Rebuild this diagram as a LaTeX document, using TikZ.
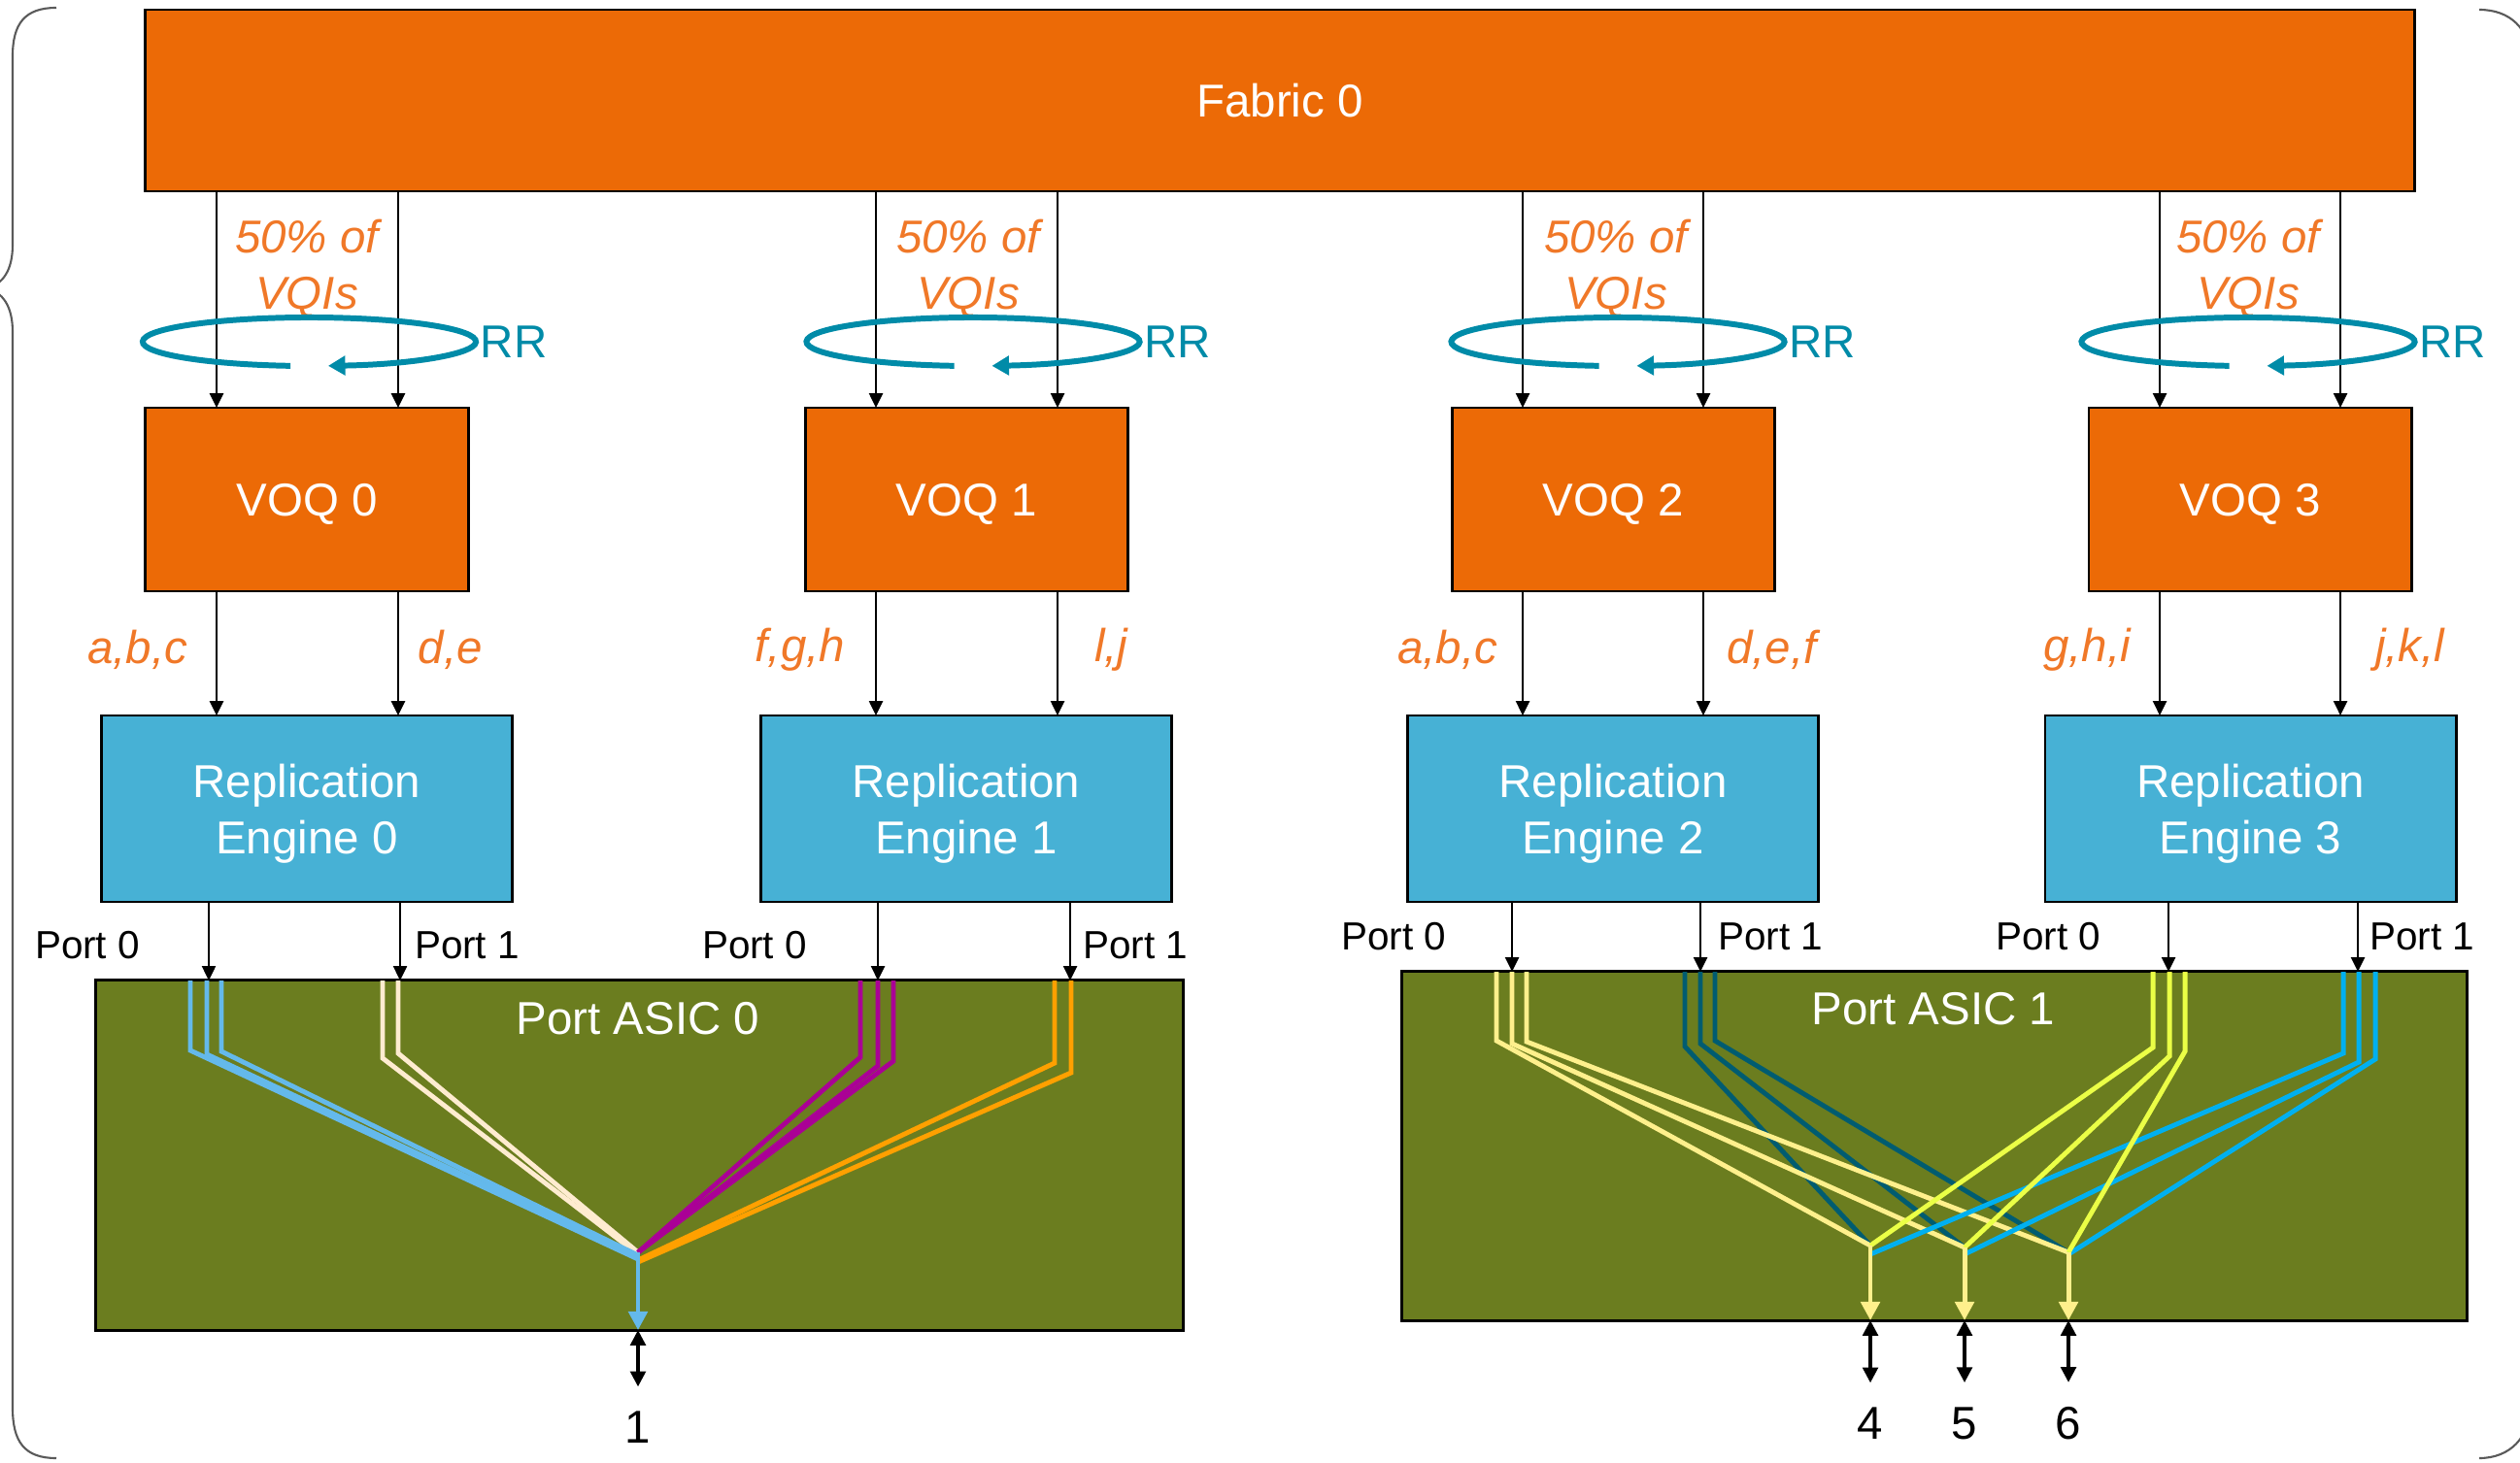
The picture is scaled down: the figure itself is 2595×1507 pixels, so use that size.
\documentclass[tikz,border=0pt]{standalone}
\usepackage{fontspec}
\setmainfont{Liberation Sans}
\usepackage{xcolor}
\usepackage{tikz}
\usetikzlibrary{arrows.meta, positioning, calc}

\definecolor{fabOrange}{RGB}{236,106,6}
\definecolor{repBlue}{RGB}{71,177,213}
\definecolor{asicGreen}{RGB}{107,125,31}
\definecolor{lblOrange}{RGB}{240,120,40}
\definecolor{rrTeal}{RGB}{0,139,168}
\definecolor{lineBlue}{RGB}{100,185,235}
\definecolor{lineCream}{RGB}{255,236,208}
\definecolor{lineMagenta}{RGB}{170,0,150}
\definecolor{lineAmber}{RGB}{255,160,0}
\definecolor{lineButter}{RGB}{255,240,140}
\definecolor{lineTeal}{RGB}{0,92,112}
\definecolor{lineLime}{RGB}{235,255,70}
\definecolor{lineCyan}{RGB}{0,176,240}
\definecolor{braceGray}{RGB}{90,90,90}

\tikzset{
  bigtxt/.style={font=\fontsize{13.5}{16.5}\selectfont},
  box/.style={draw=black, line width=0.8pt, inner sep=0pt, outer sep=0pt, text=white, text depth=0pt, bigtxt},
  fabbox/.style={box, fill=fabOrange, minimum width=23.36cm, minimum height=1.87cm},
  voqbox/.style={box, fill=fabOrange, minimum width=3.32cm, minimum height=1.89cm},
  repbox/.style={box, fill=repBlue, minimum width=4.23cm, minimum height=1.92cm, align=center},
  asicbox/.style={draw=black, line width=0.8pt, fill=asicGreen, inner sep=0pt, outer sep=0pt},
  asictxt/.style={bigtxt, text=white},
  vqtxt/.style={font=\fontsize{13.5}{16.4}\selectfont\itshape, text=lblOrange, align=center, inner sep=1.5pt},
  rrtxt/.style={bigtxt, text=rrTeal, inner sep=1pt},
  porttxt/.style={font=\fontsize{11.5}{13}\selectfont},
  numtxt/.style={bigtxt, inner sep=7pt},
  arr/.style={-{Triangle[length=4.2pt, width=4pt]}, line width=0.55pt},
  dbl/.style={{Triangle[length=4.5pt, width=4.5pt]}-{Triangle[length=4.5pt, width=4.5pt]}, line width=0.9pt},
  rrloop/.style={rrTeal, line width=1.7pt, -{Triangle[length=5pt, width=5.5pt]}},
  flow/.style={line width=1.4pt},
  outarr/.style={line width=1.4pt, -{Triangle[length=5.5pt, width=5.5pt]}},
}

\begin{document}
\begin{tikzpicture}[x=0.01cm, y=-0.01cm]
    \useasboundingbox (0,0) rectangle (2595,1507);
    \clip (0,0) rectangle (2595,1507);

    % 外侧括号
    \draw[braceGray, line width=0.6pt] (58,8) .. controls (25,8) and (13,25) .. (13,58) -- (13,252)
        .. controls (13,280) and (2,292) .. (-12,297) .. controls (2,302) and (13,314) .. (13,342)
        -- (13,1450) .. controls (13,1485) and (25,1502) .. (58,1502);
    \draw[braceGray, line width=0.6pt] (2553,10) .. controls (2585,10) and (2605,30) .. (2605,60)
        -- (2605,1450) .. controls (2605,1480) and (2585,1502) .. (2553,1502);

    % Fabric 与 VOQ
    \node[fabbox] (fab) at (1318,103.5) {Fabric 0};
    \node[voqbox] (voq0) at (316,514.5) {VOQ 0};
    \node[voqbox] (voq1) at (995.5,514.5) {VOQ 1};
    \node[voqbox] (voq2) at (1661.5,514.5) {VOQ 2};
    \node[voqbox] (voq3) at (2317,514.5) {VOQ 3};

    % Replication Engine
    \node[repbox] (re0) at (316,833) {Replication\\Engine 0};
    \node[repbox] (re1) at (995,833) {Replication\\Engine 1};
    \node[repbox] (re2) at (1661,833) {Replication\\Engine 2};
    \node[repbox] (re3) at (2317.5,833) {Replication\\Engine 3};

    % Port ASIC
    \node[asicbox, minimum width=11.19cm, minimum height=3.6cm] (asic0) at (658.5,1190) {};
    \node[asicbox, minimum width=10.96cm, minimum height=3.59cm] (asic1) at (1992,1180.5) {};
    \node[asictxt] (asic0t) at (657,1049) {Port ASIC 0};
    \node[asictxt] (asic1t) at (1991,1039) {Port ASIC 1};

    % 列位置
    \coordinate (q0a) at (223,0);  \coordinate (q0b) at (410,0);
    \coordinate (q1a) at (902,0);  \coordinate (q1b) at (1089,0);
    \coordinate (q2a) at (1568,0); \coordinate (q2b) at (1754,0);
    \coordinate (q3a) at (2224,0); \coordinate (q3b) at (2410,0);
    \coordinate (p0a) at (215,0);  \coordinate (p0b) at (412,0);
    \coordinate (p1a) at (904,0);  \coordinate (p1b) at (1102,0);
    \coordinate (p2a) at (1557,0); \coordinate (p2b) at (1751,0);
    \coordinate (p3a) at (2233,0); \coordinate (p3b) at (2428,0);

    % Fabric -> VOQ
    \draw[arr] (fab.south -| q0a) -- (voq0.north -| q0a);
    \draw[arr] (fab.south -| q0b) -- (voq0.north -| q0b);
    \draw[arr] (fab.south -| q1a) -- (voq1.north -| q1a);
    \draw[arr] (fab.south -| q1b) -- (voq1.north -| q1b);
    \draw[arr] (fab.south -| q2a) -- (voq2.north -| q2a);
    \draw[arr] (fab.south -| q2b) -- (voq2.north -| q2b);
    \draw[arr] (fab.south -| q3a) -- (voq3.north -| q3a);
    \draw[arr] (fab.south -| q3b) -- (voq3.north -| q3b);

    % 50% of VQIs 与 RR 轮询
    \node[vqtxt] (vq0) at (316,277) {50\% of\\VQIs};
    \node[vqtxt] (vq1) at (997,277) {50\% of\\VQIs};
    \node[vqtxt] (vq2) at (1664,277) {50\% of\\VQIs};
    \node[vqtxt] (vq3) at (2315,277) {50\% of\\VQIs};
    \coordinate (rr0) at (318.5,352);
    \coordinate (rr1) at (1002,352);
    \coordinate (rr2) at (1666,352);
    \coordinate (rr3) at (2315,352);
    \draw[rrloop] ($(rr0)+(263.5:1.715cm and 0.25cm)$) arc[start angle=263.5, end angle=-83.5, x radius=1.715cm, y radius=0.25cm];
    \draw[rrloop] ($(rr1)+(263.5:1.715cm and 0.25cm)$) arc[start angle=263.5, end angle=-83.5, x radius=1.715cm, y radius=0.25cm];
    \draw[rrloop] ($(rr2)+(263.5:1.715cm and 0.25cm)$) arc[start angle=263.5, end angle=-83.5, x radius=1.715cm, y radius=0.25cm];
    \draw[rrloop] ($(rr3)+(263.5:1.715cm and 0.25cm)$) arc[start angle=263.5, end angle=-83.5, x radius=1.715cm, y radius=0.25cm];
    \node[rrtxt, anchor=west] (rr0t) at ($(rr0)+(172,0)$) {RR};
    \node[rrtxt, anchor=west] (rr1t) at ($(rr1)+(172,0)$) {RR};
    \node[rrtxt, anchor=west] (rr2t) at ($(rr2)+(172,0)$) {RR};
    \node[rrtxt, anchor=west] (rr3t) at ($(rr3)+(172,0)$) {RR};

    % VOQ -> Replication Engine
    \draw[arr] (voq0.south -| q0a) -- (re0.north -| q0a);
    \draw[arr] (voq0.south -| q0b) -- (re0.north -| q0b);
    \draw[arr] (voq1.south -| q1a) -- (re1.north -| q1a);
    \draw[arr] (voq1.south -| q1b) -- (re1.north -| q1b);
    \draw[arr] (voq2.south -| q2a) -- (re2.north -| q2a);
    \draw[arr] (voq2.south -| q2b) -- (re2.north -| q2b);
    \draw[arr] (voq3.south -| q3a) -- (re3.north -| q3a);
    \draw[arr] (voq3.south -| q3b) -- (re3.north -| q3b);
    \node[vqtxt, anchor=east] (l0a) at (199,669) {a,b,c};
    \node[vqtxt, anchor=west] (l0b) at (425,669) {d,e};
    \node[vqtxt, anchor=east] (l1a) at (876,669) {f,g,h};
    \node[vqtxt, anchor=west] (l1b) at (1121,669) {l,j};
    \node[vqtxt, anchor=east] (l2a) at (1548,669) {a,b,c};
    \node[vqtxt, anchor=west] (l2b) at (1772,669) {d,e,f};
    \node[vqtxt, anchor=east] (l3a) at (2200,669) {g,h,i};
    \node[vqtxt, anchor=west] (l3b) at (2440,669) {j,k,l};

    % Replication Engine -> Port ASIC
    \draw[arr] (re0.south -| p0a) -- (asic0.north -| p0a);
    \draw[arr] (re0.south -| p0b) -- (asic0.north -| p0b);
    \draw[arr] (re1.south -| p1a) -- (asic0.north -| p1a);
    \draw[arr] (re1.south -| p1b) -- (asic0.north -| p1b);
    \draw[arr] (re2.south -| p2a) -- (asic1.north -| p2a);
    \draw[arr] (re2.south -| p2b) -- (asic1.north -| p2b);
    \draw[arr] (re3.south -| p3a) -- (asic1.north -| p3a);
    \draw[arr] (re3.south -| p3b) -- (asic1.north -| p3b);
    \node[porttxt] (pl0a) at (90,974) {Port 0};
    \node[porttxt] (pl0b) at (481,974) {Port 1};
    \node[porttxt] (pl1a) at (777,974) {Port 0};
    \node[porttxt] (pl1b) at (1169,974) {Port 1};
    \node[porttxt] (pl2a) at (1435,965) {Port 0};
    \node[porttxt] (pl2b) at (1823,965) {Port 1};
    \node[porttxt] (pl3a) at (2109,965) {Port 0};
    \node[porttxt] (pl3b) at (2494,965) {Port 1};

    % Port ASIC 0 内部复制路径 (汇聚到端口 1)
    \coordinate (o1) at (657,1290);
    \draw[flow, lineCream] (394,1010) -- (394,1090) -- (657,1292);
    \draw[flow, lineCream] (410,1010) -- (410,1085) -- (657,1290);
    \draw[flow, lineBlue] (196,1010) -- (196,1082) -- (657,1297);
    \draw[flow, lineBlue] (213,1010) -- (213,1086) -- (657,1295);
    \draw[flow, lineBlue] (228,1010) -- (228,1083) -- (657,1293);
    \draw[flow, lineAmber] (1086,1010) -- (1086,1095) -- (657,1298);
    \draw[flow, lineAmber] (1103,1010) -- (1103,1105) -- (657,1300);
    \draw[flow, lineMagenta] (886,1010) -- (886,1089) -- (o1);
    \draw[flow, lineMagenta] (904,1010) -- (904,1098) -- (o1);
    \draw[flow, lineMagenta] (920,1010) -- (920,1093) -- (o1);
    \draw[outarr, lineBlue] (o1) -- (asic0.south -| o1);

    % Port ASIC 1 内部复制路径 (端口 4, 5, 6)
    \coordinate (o4) at (1926,1283);
    \coordinate (o5) at (2023,1285);
    \coordinate (o6) at (2130,1290);
    \draw[flow, lineTeal] (1735,1001) -- (1735,1078) -- (o4);
    \draw[flow, lineTeal] (1751,1001) -- (1751,1075) -- (o5);
    \draw[flow, lineTeal] (1766,1001) -- (1766,1072) -- (o6);
    \draw[flow, lineButter] (1541,1001) -- (1541,1072) -- (o4);
    \draw[flow, lineButter] (1557,1001) -- (1557,1075) -- (o5);
    \draw[flow, lineButter] (1572,1001) -- (1572,1073) -- (o6);
    \draw[flow, lineCyan] (2413,1001) -- (2413,1085) -- (1926,1292);
    \draw[flow, lineCyan] (2429,1001) -- (2429,1094) -- (2023,1292);
    \draw[flow, lineCyan] (2446,1001) -- (2446,1091) -- (2130,1292);
    \draw[flow, lineLime] (2217,1001) -- (2217,1079) -- (o4);
    \draw[flow, lineLime] (2234,1001) -- (2234,1088) -- (o5);
    \draw[flow, lineLime] (2250,1001) -- (2250,1083) -- (o6);
    \draw[outarr, lineButter] (o4) -- (asic1.south -| o4);
    \draw[outarr, lineButter] (o5) -- (asic1.south -| o5);
    \draw[outarr, lineButter] (o6) -- (asic1.south -| o6);

    % 对外端口
    \node[numtxt] (n1) at (657,1470) {1};
    \node[numtxt] (n4) at (1926,1466) {4};
    \node[numtxt] (n5) at (2023,1466) {5};
    \node[numtxt] (n6) at (2130,1466) {6};
    \draw[dbl] (asic0.south -| n1) -- (n1.north);
    \draw[dbl] (asic1.south -| n4) -- (n4.north);
    \draw[dbl] (asic1.south -| n5) -- (n5.north);
    \draw[dbl] (asic1.south -| n6) -- (n6.north);
\end{tikzpicture}
\end{document}
